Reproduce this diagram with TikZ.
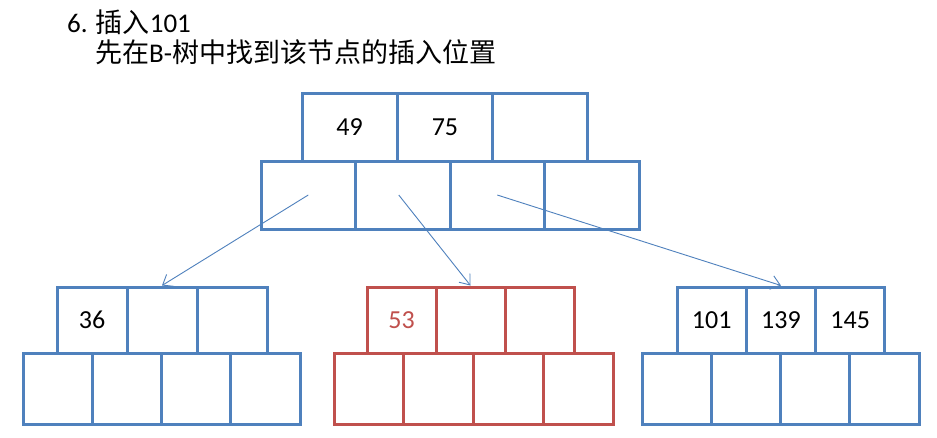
\documentclass[tikz,border=0pt]{standalone}
\usepackage{fontspec}
\setmainfont{Carlito}
\newfontfamily\cjk{Noto Sans CJK SC}
\usetikzlibrary{arrows.meta}
\definecolor{bblue}{HTML}{4F81BD}
\definecolor{bred}{HTML}{C0504D}
\tikzset{
  bcell/.style={draw=bblue, line width=3pt, inner sep=0pt, font=\fontsize{26}{30}\selectfont, text=black},
  rcell/.style={draw=bred, line width=3pt, inner sep=0pt, font=\fontsize{26}{30}\selectfont, text=bred},
  keyrow/.style={minimum height=66pt},
  ptrrow/.style={minimum height=71pt},
  link/.style={draw=bblue, line width=0.9pt, -{Straight Barb[length=9pt,width=14pt]}},
  title/.style={anchor=west, inner sep=0pt, font=\fontsize{27}{32}\selectfont, text=black}
}
\begin{document}
\begin{tikzpicture}[x=1pt,y=-1pt]
\useasboundingbox (0,0) rectangle (937,437);
\fill[white] (0,0) rectangle (937,437);
% title
\node[title] (t1) at (67,22) {6. {\cjk 插入}101};
\node[title] (t2) at (95,52) {{\cjk 先在}B-{\cjk 树中找到该节点的插入位置}};
% root
\foreach \t [count=\i from 0] in {49,75,{}}
  \node[bcell, minimum width=95.3pt, minimum height=68pt] (rk\i) at ({302+95.3*(\i+0.5)},127) {\t};
\foreach \i in {0,1,2,3}
  \node[bcell, minimum width=94.5pt, minimum height=68pt] (rp\i) at ({261+94.5*(\i+0.5)},195) {};
% left child
\foreach \t [count=\i from 0] in {36,{},{}}
  \node[bcell, keyrow, minimum width=70pt] (lk\i) at ({57+70*(\i+0.5)},320) {\t};
\foreach \i in {0,1,2,3}
  \node[bcell, ptrrow, minimum width=69.25pt] (lp\i) at ({23+69.25*(\i+0.5)},388.5) {};
% middle child
\foreach \t [count=\i from 0] in {53,{},{}}
  \node[rcell, keyrow, minimum width=69pt] (mk\i) at ({367+69*(\i+0.5)},320) {\t};
\foreach \i in {0,1,2,3}
  \node[rcell, ptrrow, minimum width=69.75pt] (mp\i) at ({334+69.75*(\i+0.5)},388.5) {};
% right child
\foreach \t [count=\i from 0] in {101,139,145}
  \node[bcell, keyrow, minimum width=69.3pt] (gk\i) at ({677+69.3*(\i+0.5)},320) {\t};
\foreach \i in {0,1,2,3}
  \node[bcell, ptrrow, minimum width=69.25pt] (gp\i) at ({642+69.25*(\i+0.5)},388.5) {};
% links
\draw[link] (rp0.center) -- (lk1.north);
\draw[link] ([xshift=-4pt]rp1.center) -- (mk1.north);
\draw[link] (rp2.center) -- (gk1.north);
\end{tikzpicture}
\end{document}
